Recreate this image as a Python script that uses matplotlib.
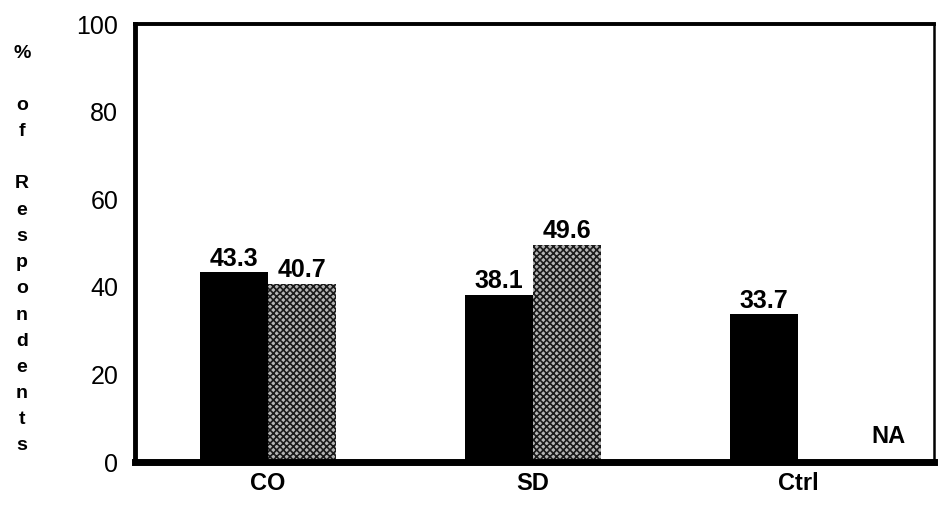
"""Bar chart: % of respondents by group (CO, SD, Ctrl)."""
import matplotlib
matplotlib.use("Agg")
import matplotlib.pyplot as plt
import numpy as np

plt.rcParams["font.family"] = ["Liberation Sans", "DejaVu Sans"]
plt.rcParams["hatch.linewidth"] = 1.2

groups = ["CO", "SD", "Ctrl"]
first_vals = [43.3, 38.1, 33.7]
second_vals = [40.7, 49.6, None]   # Ctrl has no value (NA)
y_ticks = [0, 20, 40, 60, 80, 100]
y_label_chars = ["%", "", "o", "f", "", "R", "e", "s", "p", "o", "n", "d", "e", "n", "t", "s"]

fig = plt.figure(figsize=(9.39, 5.09), dpi=100)
ax = fig.add_axes([0.1438, 0.0923, 0.8510, 0.8605])

x = np.arange(len(groups))
width = 0.257

ax.bar(x - width / 2, first_vals, width, color="black", edgecolor="none")
for xi, v in zip(x, second_vals):
    if v is None:
        continue
    ax.bar(xi + width / 2, v, width, facecolor="#b4b4b4", edgecolor="#1a1a1a",
           hatch="xxxxx", linewidth=0)

for xi, v in zip(x, first_vals):
    ax.text(xi - width / 2, v + 0.4, f"{v:.1f}", ha="center", va="bottom",
            fontsize=18, fontweight="bold")
for xi, v in zip(x, second_vals):
    if v is None:
        ax.text(xi + 0.34, 3.2, "NA", ha="center", va="bottom",
                fontsize=17, fontweight="bold")
    else:
        ax.text(xi + width / 2, v + 0.4, f"{v:.1f}", ha="center", va="bottom",
                fontsize=18, fontweight="bold")

ax.set_xlim(-0.502, 2.513)
ax.set_ylim(0, 100)
ax.set_xticks(x)
ax.set_xticklabels(groups, fontsize=17, fontweight="bold")
ax.set_yticks(y_ticks)
ax.set_yticklabels([str(t) for t in y_ticks], fontsize=18)
ax.tick_params(axis="both", length=0)
ax.tick_params(axis="y", pad=12)
ax.tick_params(axis="x", pad=7)

for side, lw in [("left", 3.5), ("top", 2.8), ("right", 1.8), ("bottom", 5.0)]:
    ax.spines[side].set_linewidth(lw)
    ax.spines[side].set_color("black")
ax.spines["bottom"].set_zorder(5)

# stacked vertical axis label, one character per line
top_px, step_px = 53, 26.2
for i, ch in enumerate(y_label_chars):
    if ch:
        fig.text(22 / 939, 1 - (top_px + i * step_px) / 509, ch, ha="center",
                 va="center", fontsize=14, fontweight="bold")

fig.savefig("out.png", dpi=100)
